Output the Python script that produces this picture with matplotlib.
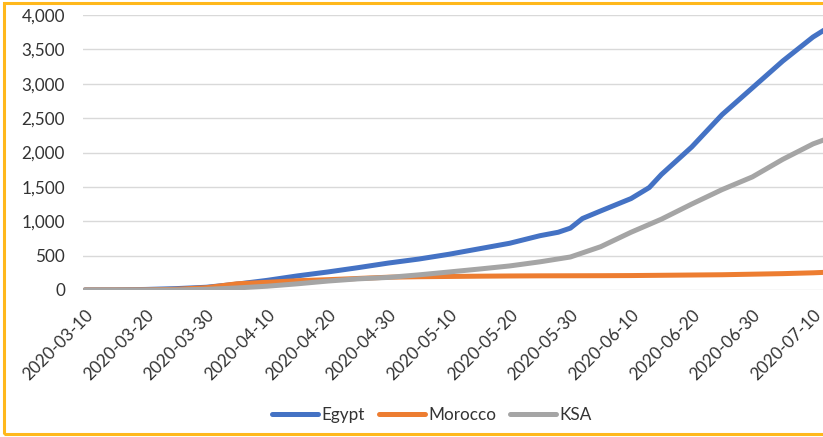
import matplotlib.pyplot as plt
import pandas as pd
from matplotlib.patches import Rectangle
from matplotlib.transforms import ScaledTranslation

# category axis: every day from 10 Mar on, the 31st days are not in the sheet
days = pd.date_range('2020-03-10', '2020-07-12')
categories = [d.strftime('%Y-%m-%d') for d in days if d.day != 31]

# sampled rows of the sheet (cumulative deaths)
egypt_dates = ['2020-03-10', '2020-03-15', '2020-03-20', '2020-03-25', '2020-03-30',
               '2020-04-05', '2020-04-10', '2020-04-15', '2020-04-20', '2020-04-25',
               '2020-04-30', '2020-05-05', '2020-05-10', '2020-05-15', '2020-05-20',
               '2020-05-25', '2020-05-28', '2020-05-30', '2020-06-02', '2020-06-05',
               '2020-06-10', '2020-06-13', '2020-06-15', '2020-06-20', '2020-06-25',
               '2020-06-30', '2020-07-05', '2020-07-10', '2020-07-12']
egypt = [1, 2, 8, 20, 40, 85, 140, 205, 262, 325, 392, 450, 520, 600, 680,
         790, 840, 900, 1040, 1150, 1330, 1490, 1680, 2080, 2550, 2940, 3330,
         3680, 3790]

morocco_dates = ['2020-03-10', '2020-03-15', '2020-03-20', '2020-03-25', '2020-03-30',
                 '2020-04-05', '2020-04-10', '2020-04-15', '2020-04-20', '2020-04-25',
                 '2020-04-30', '2020-05-05', '2020-05-10', '2020-05-15', '2020-05-20',
                 '2020-05-25', '2020-05-30', '2020-06-05', '2020-06-10', '2020-06-15',
                 '2020-06-20', '2020-06-25', '2020-06-30', '2020-07-05', '2020-07-10',
                 '2020-07-12']
morocco = [0, 1, 2, 10, 33, 90, 112, 135, 150, 168, 186, 193, 197, 201, 204,
           206, 207, 208, 210, 214, 218, 222, 230, 238, 250, 257]

ksa_dates = ['2020-03-10', '2020-03-15', '2020-03-20', '2020-03-25', '2020-03-30',
             '2020-04-05', '2020-04-10', '2020-04-15', '2020-04-20', '2020-04-25',
             '2020-04-30', '2020-05-05', '2020-05-10', '2020-05-15', '2020-05-20',
             '2020-05-25', '2020-05-30', '2020-06-05', '2020-06-10', '2020-06-15',
             '2020-06-20', '2020-06-25', '2020-06-30', '2020-07-05', '2020-07-10',
             '2020-07-12']
ksa = [0, 0, 0, 1, 10, 30, 55, 90, 130, 162, 183, 220, 262, 305, 350,
       410, 480, 630, 840, 1030, 1250, 1460, 1645, 1900, 2125, 2190]

tick_dates = ['2020-03-10', '2020-03-20', '2020-03-30', '2020-04-10', '2020-04-20',
              '2020-04-30', '2020-05-10', '2020-05-20', '2020-05-30', '2020-06-10',
              '2020-06-20', '2020-06-30', '2020-07-10']

plt.rcParams['font.family'] = ['Lato', 'DejaVu Sans']
text_col = '#333333'

fig = plt.figure(figsize=(8.23, 4.37), dpi=100)
ax = fig.add_axes([83 / 823, 1 - 290 / 437, 740 / 823, 275 / 437])

pos = {c: i for i, c in enumerate(categories)}
series = [(egypt_dates, egypt, '#4472C4', 'Egypt'),
          (morocco_dates, morocco, '#ED7D31', 'Morocco'),
          (ksa_dates, ksa, '#A5A5A5', 'KSA')]
for d, v, col, name in series:
    ax.plot([pos[s] for s in d], v, color=col, lw=3.6, label=name,
            solid_capstyle='round', solid_joinstyle='round')

ax.set_xlim(-0.33, 121.64)
ax.set_ylim(0, 4000)
ax.set_yticks(range(0, 4001, 500))
ax.set_yticklabels([f'{v:,}' for v in range(0, 4001, 500)])
ax.set_xticks([pos[s] for s in tick_dates])
ax.set_xticklabels(tick_dates, rotation=45, ha='right', va='top',
                   rotation_mode='anchor')
shift = ScaledTranslation(-2 / 100, 0, fig.dpi_scale_trans)
for lab in ax.get_xticklabels():
    lab.set_transform(lab.get_transform() + shift)

ax.grid(axis='y', color='#D9D9D9', lw=1.0)
ax.set_axisbelow(True)
for s in ax.spines.values():
    s.set_visible(False)
ax.tick_params(axis='y', length=0, pad=13, labelsize=12.3, labelcolor=text_col)
ax.tick_params(axis='x', length=0, pad=12, labelsize=12.3, labelcolor=text_col)

fig.legend(loc='center', bbox_to_anchor=(432 / 823, 1 - 415 / 437), ncol=3,
           frameon=False, fontsize=12.3, handlelength=2.7, handletextpad=0.2,
           columnspacing=0.8, labelcolor=text_col)

# gold frame around the chart
fig.patches.append(Rectangle((4 / 823, 3 / 437), 1.0, 1 - 6 / 437,
                             transform=fig.transFigure, fill=False,
                             edgecolor='#FFB81C', lw=2.2))

fig.savefig('out.png', dpi=100)
